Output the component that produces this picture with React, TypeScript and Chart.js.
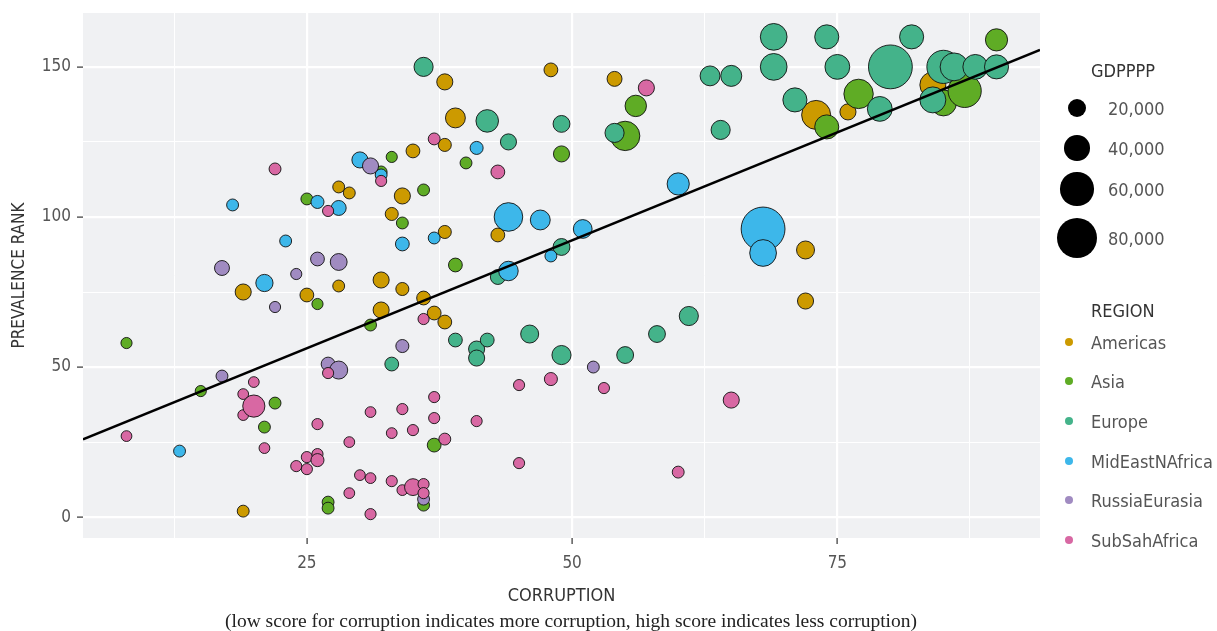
import React, { useEffect, useRef } from 'react';
import { Chart, registerables } from 'chart.js';

Chart.register(...registerables);

// ---------- DATA ----------
const REGIONS = ['Americas', 'Asia', 'Europe', 'MidEastNAfrica', 'RussiaEurasia', 'SubSahAfrica'];
const REGION_COLORS = ['#CC9A00', '#5FAC25', '#44B38A', '#3DB7EA', '#A08BC1', '#D868A3'];

// corruption score (x), prevalence rank (y), GDP PPP
const americasX = [19, 19, 25, 28, 32, 34, 32, 36, 37, 38, 38, 43, 33, 34, 28, 29, 35, 38, 39, 38, 48, 54, 72, 72, 73, 76, 84];
const americasY = [2, 75, 74, 77, 79, 76, 69, 73, 68, 65, 95, 94, 101, 107, 110, 108, 122, 124, 133, 145, 149, 146, 89, 72, 134, 135, 144];
const americasGDP = [4000, 15000, 9000, 4000, 15000, 7000, 15000, 9000, 9000, 9000, 7000, 9000, 7000, 15000, 4000, 4000, 9000, 7000, 25000, 15000, 9000, 12000, 20000, 15000, 49000, 15000, 41000];

const asiaX = [8, 15, 21, 22, 25, 26, 27, 27, 31, 32, 33, 34, 36, 36, 37, 39, 40, 49, 55, 56, 74, 77, 85, 87, 90];
const asiaY = [58, 42, 30, 38, 106, 71, 5, 3, 64, 115, 120, 98, 109, 4, 24, 84, 118, 121, 127, 137, 130, 141, 138, 142, 159];
const asiaGDP = [2000, 2000, 4000, 4000, 4000, 2000, 4000, 4000, 4000, 4000, 2000, 4000, 4000, 4000, 9000, 9000, 4000, 15000, 50000, 29000, 36000, 50000, 41000, 60000, 31000];

const europeX = [33, 36, 39, 41, 41, 42, 42, 43, 44, 46, 49, 49, 49, 54, 55, 58, 61, 63, 64, 65, 69, 69, 71, 74, 75, 79, 80, 82, 84, 85, 86, 88, 90];
const europeY = [51, 150, 59, 56, 53, 59, 132, 80, 125, 61, 131, 90, 54, 128, 54, 61, 67, 147, 129, 147, 160, 150, 139, 160, 150, 136, 150, 160, 139, 150, 150, 150, 150];
const europeGDP = [9000, 23000, 9000, 15000, 15000, 9000, 32000, 12000, 15000, 20000, 17000, 17000, 23000, 23000, 17000, 17000, 23000, 25000, 23000, 28000, 43000, 43000, 36000, 36000, 38000, 38000, 88000, 36000, 41000, 60000, 46000, 38000, 36000];

const mideastX = [13, 18, 21, 23, 26, 28, 30, 32, 34, 37, 41, 44, 44, 47, 48, 51, 60, 68, 68];
const mideastY = [22, 104, 78, 92, 105, 103, 119, 114, 91, 93, 123, 100, 82, 99, 87, 96, 111, 96, 88];
const mideastGDP = [4000, 4000, 18000, 4000, 7000, 12000, 15000, 4000, 9000, 4000, 7000, 48000, 24000, 25000, 4000, 22000, 31000, 88000, 43000];

const russiaX = [17, 17, 22, 24, 26, 27, 28, 28, 31, 34, 36, 52];
const russiaY = [83, 47, 70, 81, 86, 51, 85, 49, 117, 57, 6, 50];
const russiaGDP = [12000, 4000, 2000, 2000, 9000, 9000, 17000, 20000, 15000, 7000, 4000, 4000];

const subsahX = [8, 19, 19, 20, 20, 21, 22, 24, 25, 25, 26, 26, 26, 27, 27, 29, 29, 30, 31, 31, 31, 32, 33, 33, 34, 34, 35, 35, 36, 36, 36, 37, 37, 37, 38, 41, 43, 45, 45, 48, 53, 57, 60, 65];
const subsahY = [27, 41, 34, 45, 37, 23, 116, 17, 20, 16, 21, 19, 31, 102, 48, 25, 8, 14, 35, 13, 1, 112, 28, 12, 36, 9, 29, 10, 66, 11, 8, 126, 40, 33, 26, 32, 115, 44, 18, 46, 43, 143, 15, 39];
const subsahGDP = [1000, 1000, 1000, 1000, 31000, 1000, 4000, 2000, 2000, 2000, 2000, 7000, 2000, 2000, 2000, 1000, 1000, 1000, 1000, 1000, 2000, 2000, 1000, 2000, 2000, 1000, 2000, 17000, 2000, 2000, 2000, 4000, 2000, 2000, 4000, 2000, 9000, 2000, 2000, 7000, 2000, 15000, 4000, 15000];

const REGION_X = [americasX, asiaX, europeX, mideastX, russiaX, subsahX];
const REGION_Y = [americasY, asiaY, europeY, mideastY, russiaY, subsahY];
const REGION_GDP = [americasGDP, asiaGDP, europeGDP, mideastGDP, russiaGDP, subsahGDP];

const X_TICKS = [12.5, 25, 37.5, 50, 62.5, 75, 87.5];
const X_LABELED = [25, 50, 75];
const Y_TICKS = [0, 25, 50, 75, 100, 125, 150];
const Y_LABELED = [0, 50, 100, 150];
const SIZE_BREAKS = [20000, 40000, 60000, 80000];

// ---------- helpers ----------
const radiusFor = (gdp: number) => 5.2 + 0.19 * (gdp / 1000);

const allX = REGION_X.flat();
const allY = REGION_Y.flat();
const xRange = [Math.min(...allX), Math.max(...allX)];
const yRange = [Math.min(...allY), Math.max(...allY)];
const xPad = (xRange[1] - xRange[0]) * 0.05;
const yPad = (yRange[1] - yRange[0]) * 0.05;
const X_MIN = xRange[0] - xPad;
const X_MAX = xRange[1] + xPad;
const Y_MIN = yRange[0] - yPad;
const Y_MAX = yRange[1] + yPad;

// least squares fit
function fit() {
  const n = allX.length;
  const mx = allX.reduce((a, b) => a + b, 0) / n;
  const my = allY.reduce((a, b) => a + b, 0) / n;
  let sxy = 0, sxx = 0;
  for (let i = 0; i < n; i++) {
    sxy += (allX[i] - mx) * (allY[i] - my);
    sxx += (allX[i] - mx) * (allX[i] - mx);
  }
  const b = sxy / sxx;
  return { a: my - b * mx, b };
}

const FONT = "'Liberation Sans Narrow', 'DejaVu Sans Condensed', 'Roboto', sans-serif";
const TEXT_COLOR = '#555555';

export default function App() {
  const ref = useRef<HTMLCanvasElement | null>(null);

  useEffect(() => {
    if (!ref.current) return;
    const { a, b } = fit();
    const bubbleSets = REGIONS.map((name, i) => ({
      type: 'bubble' as const,
      label: name,
      data: REGION_X[i].map((x, j) => ({ x, y: REGION_Y[i][j], r: radiusFor(REGION_GDP[i][j]) })),
      backgroundColor: REGION_COLORS[i],
      borderColor: '#111',
      borderWidth: 0.9,
      order: 10 - i,
    }));
    const lineSet = {
      type: 'line' as const,
      label: 'fit',
      data: [
        { x: X_MIN, y: a + b * X_MIN },
        { x: X_MAX, y: a + b * X_MAX },
      ],
      borderColor: '#000',
      borderWidth: 2.6,
      pointRadius: 0,
      fill: false,
      order: 0,
    };

    const bgPlugin = {
      id: 'panelBg',
      beforeDraw(chart: any) {
        const { ctx, chartArea } = chart;
        ctx.save();
        ctx.fillStyle = '#F0F1F3';
        ctx.fillRect(chartArea.left, chartArea.top, chartArea.right - chartArea.left, chartArea.bottom - chartArea.top);
        ctx.restore();
      },
    };

    const chart = new Chart(ref.current, {
      type: 'bubble',
      data: { datasets: [lineSet as any, ...bubbleSets] },
      options: {
        animation: false,
        responsive: false,
        events: [],
        layout: { autoPadding: false, padding: { left: 0, right: 177, top: 13, bottom: 0 } },
        plugins: { legend: { display: false }, tooltip: { enabled: false } },
        scales: {
          x: {
            type: 'linear',
            min: X_MIN,
            max: X_MAX,
            afterBuildTicks: (scale: any) => {
              scale.ticks = X_TICKS.map((v) => ({ value: v }));
            },
            afterFit: (scale: any) => {
              scale.height = 93;
              scale.paddingLeft = 0;
              scale.paddingRight = 0;
            },
            border: { display: false },
            grid: {
              color: '#ffffff',
              lineWidth: (ctx: any) => (X_LABELED.includes(ctx.tick?.value) ? 2.2 : 1),
              tickColor: (ctx: any) => (X_LABELED.includes(ctx.tick?.value) ? '#333' : 'rgba(0,0,0,0)'),
              tickLength: 6,
              tickWidth: 1.2,
            },
            ticks: {
              autoSkip: false,
              maxRotation: 0,
              padding: 9,
              color: TEXT_COLOR,
              font: { family: FONT, size: 17 },
              callback: (v: any) => (X_LABELED.includes(Number(v)) ? String(v) : ''),
            },
            title: {
              display: true,
              text: 'CORRUPTION',
              color: '#333',
              font: { family: FONT, size: 18 },
              padding: { bottom: 24 },
            },
          },
          y: {
            type: 'linear',
            min: Y_MIN,
            max: Y_MAX,
            afterBuildTicks: (scale: any) => {
              scale.ticks = Y_TICKS.map((v) => ({ value: v }));
            },
            afterFit: (scale: any) => {
              scale.width = 83;
              scale.paddingTop = 0;
              scale.paddingBottom = 0;
            },
            border: { display: false },
            grid: {
              color: '#ffffff',
              lineWidth: (ctx: any) => (Y_LABELED.includes(ctx.tick?.value) ? 2.2 : 1),
              tickColor: (ctx: any) => (Y_LABELED.includes(ctx.tick?.value) ? '#333' : 'rgba(0,0,0,0)'),
              tickLength: 6,
              tickWidth: 1.2,
            },
            ticks: {
              autoSkip: false,
              padding: 6,
              color: TEXT_COLOR,
              font: { family: FONT, size: 17 },
              callback: (v: any) => (Y_LABELED.includes(Number(v)) ? String(v) : ''),
            },
            title: {
              display: true,
              text: 'PREVALENCE RANK',
              color: '#333',
              font: { family: FONT, size: 17 },
              padding: { top: 9 },
            },
          },
        },
      },
      plugins: [bgPlugin],
    });
    return () => chart.destroy();
  }, []);

  const sizeYs = [108, 148, 189, 238];
  const regionYs = [342, 381, 421, 461, 500, 540];

  return (
    <div style={{ position: 'absolute', left: 0, top: 0, width: 1217, height: 631, background: '#fff', fontFamily: FONT }}>
      <canvas ref={ref} width={1217} height={631} style={{ position: 'absolute', left: 0, top: 0, width: 1217, height: 631 }} />
      <div style={{ position: 'absolute', left: 1091, top: 70, transform: 'translateY(-50%)', fontSize: 18, color: '#333', whiteSpace: 'nowrap' }}>GDPPPP</div>
      {SIZE_BREAKS.map((v, i) => {
        const r = radiusFor(v);
        return (
          <React.Fragment key={v}>
            <div style={{ position: 'absolute', left: 1077 - r, top: sizeYs[i] - r, width: 2 * r, height: 2 * r, borderRadius: '50%', background: '#000' }} />
            <div style={{ position: 'absolute', left: 1108, top: sizeYs[i], transform: 'translateY(-50%)', fontSize: 18, color: TEXT_COLOR, whiteSpace: 'nowrap' }}>
              {v.toLocaleString('en-US')}
            </div>
          </React.Fragment>
        );
      })}
      <div style={{ position: 'absolute', left: 1091, top: 310, transform: 'translateY(-50%)', fontSize: 18, color: '#333', whiteSpace: 'nowrap' }}>REGION</div>
      {REGIONS.map((name, i) => (
        <React.Fragment key={name}>
          <div style={{ position: 'absolute', left: 1069 - 4, top: regionYs[i] - 4, width: 8, height: 8, borderRadius: '50%', background: REGION_COLORS[i] }} />
          <div style={{ position: 'absolute', left: 1091, top: regionYs[i], transform: 'translateY(-50%)', fontSize: 18, color: TEXT_COLOR, whiteSpace: 'nowrap' }}>
            {name}
          </div>
        </React.Fragment>
      ))}
      <div style={{ position: 'absolute', left: 571, top: 621, transform: 'translate(-50%, -50%)', fontFamily: "'Liberation Serif', 'DejaVu Serif', serif", fontSize: 19.5, color: '#222', whiteSpace: 'nowrap' }}>
        (low score for corruption indicates more corruption, high score indicates less corruption)
      </div>
    </div>
  );
}
